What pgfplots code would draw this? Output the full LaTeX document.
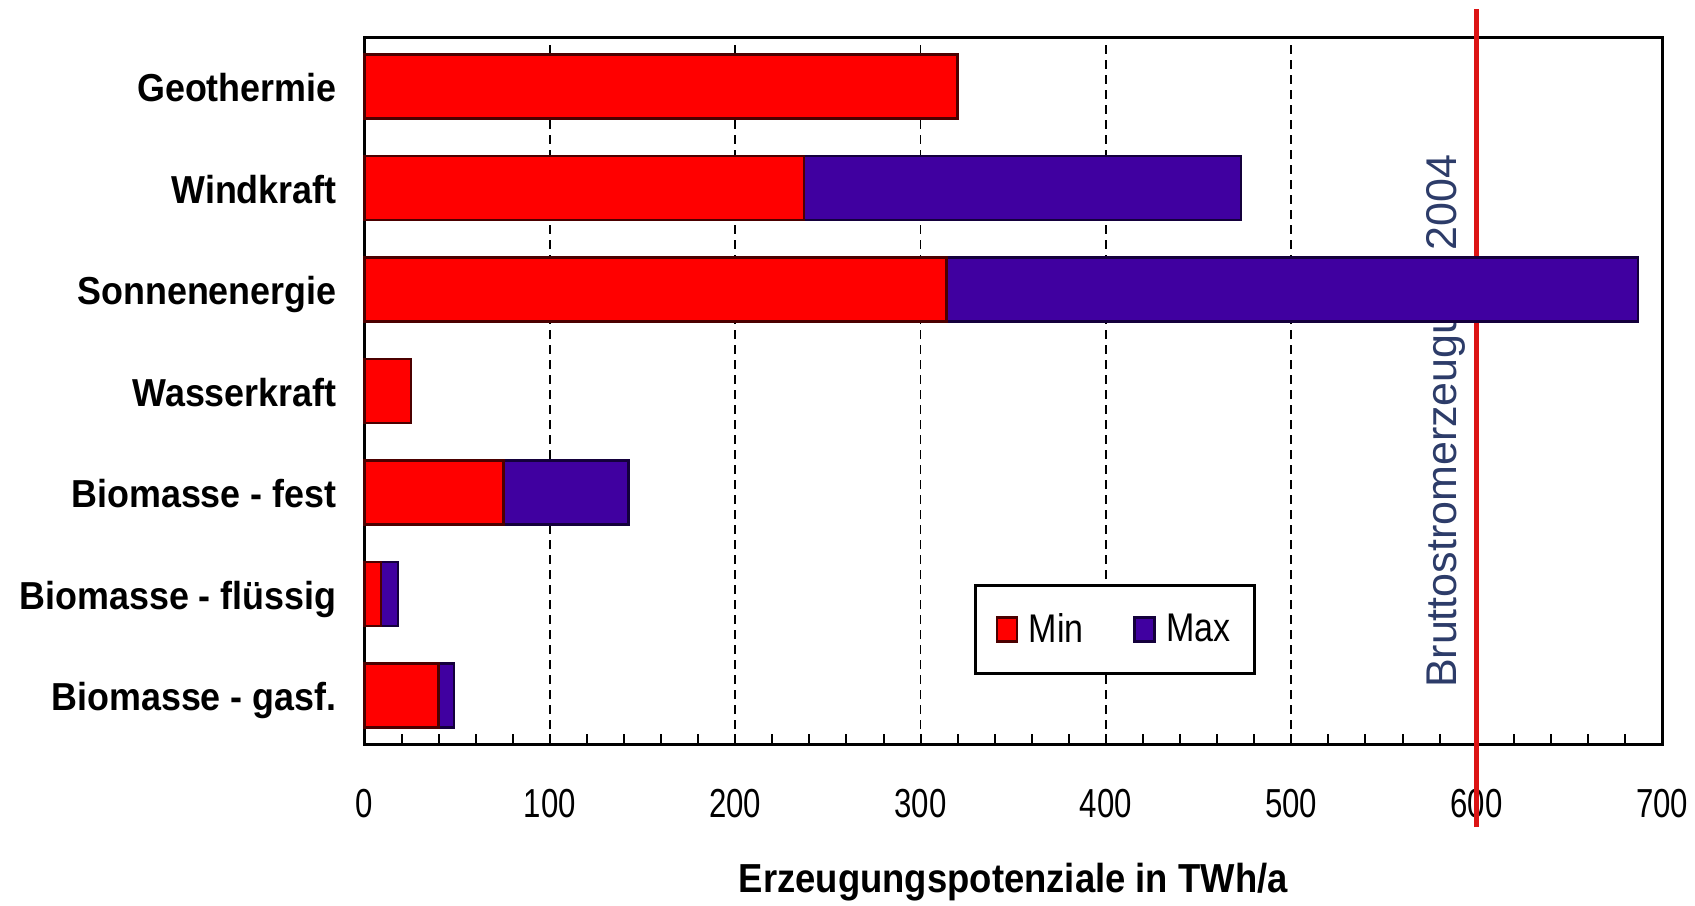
\documentclass[border=0pt]{standalone}
\usepackage{pgfplots}
\usepackage{pgfplotstable}
\pgfplotsset{compat=1.18}
\usepackage{fontspec}
\setmainfont{Liberation Sans}
\newfontfamily\catfont[FakeStretch=0.92]{Liberation Sans}
\newfontfamily\tickfont[FakeStretch=0.77]{Liberation Sans}
\newfontfamily\labfont[FakeStretch=0.90]{Liberation Sans}
\newfontfamily\legfont[FakeStretch=0.85]{Liberation Sans}
\definecolor{minfill}{RGB}{255,0,0}
\definecolor{mindraw}{RGB}{75,0,0}
\definecolor{maxfill}{RGB}{64,0,160}
\definecolor{maxdraw}{RGB}{20,0,60}
\definecolor{refline}{RGB}{220,20,20}
\definecolor{reftext}{RGB}{45,60,105}

\pgfplotstableread{
y min extra
0 40 8.4
1 9 9
2 75 67.5
3 25 0
4 314 373
5 237 236
6 320 0
}\data

\begin{document}
\begin{tikzpicture}
\begin{axis}[
  name=ax,
  scale only axis,
  width=648.75pt, height=353pt,
  xmin=0, xmax=700, ymin=-0.48, ymax=6.48,
  xbar stacked, bar width=32pt,
  clip=false,
  axis line style={line width=1.5pt, black},
  xtick={0,100,...,700},
  minor x tick num=4,
  xtick align=inside,
  xtick pos=left,
  major tick length=5pt, minor tick length=5pt,
  x tick style={line width=1pt, black},
  ytick={0,...,6},
  yticklabels={Biomasse - gasf., Biomasse - flüssig, Biomasse - fest, Wasserkraft, Sonnenenergie, Windkraft, Geothermie},
  y tick style={draw=none},
  xmajorgrids,
  major grid style={black, line width=0.9pt, dash pattern=on 4.5pt off 3pt},
  /pgf/number format/assume math mode=true,
  xticklabel style={font=\tickfont\fontsize{20.25pt}{24pt}\selectfont, inner sep=0pt, anchor=base, yshift=-36.5pt},
  yticklabel style={font=\catfont\bfseries\fontsize{19.5pt}{23pt}\selectfont, inner sep=0pt, anchor=base east, xshift=-13.75pt, yshift=-7.6pt},
  xlabel={Erzeugungspotenziale in TWh/a},
  xlabel style={at={(axis description cs:0.5,0)}, anchor=base, inner sep=0pt, yshift=-74.35pt, font=\labfont\bfseries\fontsize{20.25pt}{24pt}\selectfont},
  legend columns=2,
  legend style={at={(axis cs:405,0.65)}, anchor=center, draw=black, line width=1.3pt, fill=white,
    font=\legfont\fontsize{20pt}{24pt}\selectfont, inner xsep=10pt, inner ysep=12pt,
    /tikz/every even column/.append style={column sep=23pt},
    /tikz/every odd column/.append style={column sep=3.3pt}},
]
\addplot[fill=minfill, draw=mindraw, line width=1.2pt,
  legend image code/.code={\draw[fill=minfill, draw=mindraw, line width=1.2pt] (0pt,-6pt) rectangle (10pt,6pt);}]
  table[x=min, y=y] {\data};
\addlegendentry{Min}
\addplot[fill=maxfill, draw=maxdraw, line width=1.2pt,
  legend image code/.code={\draw[fill=maxfill, draw=maxdraw, line width=1.2pt] (0pt,-6pt) rectangle (10pt,6pt);}]
  table[x=extra, y=y] {\data};
\addlegendentry{Max}
\draw[refline, line width=2.5pt] (axis cs:600,-1.3) -- (axis cs:600,6.77);
\node[rotate=90, anchor=base, text=reftext, font=\fontsize{21.5pt}{25pt}\selectfont, inner sep=0pt] at (axis cs:589,2.7) {Bruttostromerzeugung 2004};
\end{axis}
\pgfresetboundingbox
\path[use as bounding box] ([xshift=-182.25pt,yshift=-80.5pt]ax.south west) rectangle ([xshift=16.5pt,yshift=19pt]ax.north east);
\end{tikzpicture}
\end{document}
